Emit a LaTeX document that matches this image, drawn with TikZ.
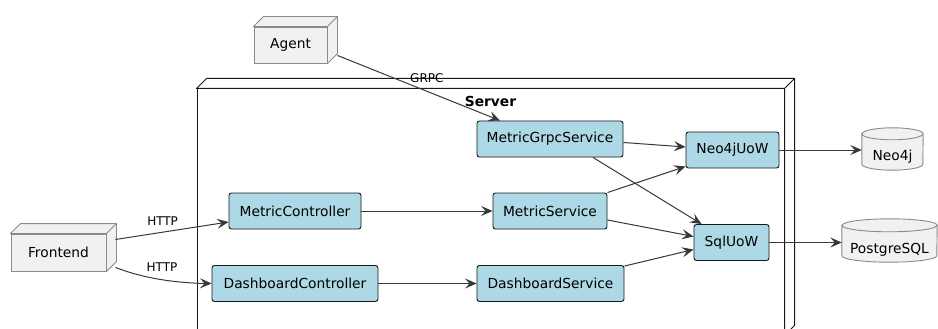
\documentclass[tikz,border=0pt]{standalone}
\usepackage{fontspec}
\setmainfont{DejaVu Sans}
\usetikzlibrary{arrows.meta,calc,backgrounds}

\definecolor{compblue}{HTML}{ADD8E6}
\definecolor{inkdark}{HTML}{181818}
\definecolor{nodegray}{HTML}{F1F1F1}
\definecolor{edgegray}{HTML}{8A8A8A}
\definecolor{wire}{HTML}{383838}

% top and side faces of a 3D "node" box, drawn behind its front face
\newcommand\boxfaces[2]{%
  \draw[#2] (#1.north west) -- ++(10,-10) -- ($(#1.north east)+(10,-10)$)
    -- ($(#1.south east)+(10,-10)$) -- (#1.south east) -- (#1.north east) -- cycle;
  \draw[#2] (#1.north east) -- ++(10,-10);}

% database cylinder around a named node: #2 = x radius, #3 = y radius (pt)
\newcommand\dbbody[3]{%
  \draw[dbline] ($(#1.north west)+(0,#3)$) -- ($(#1.south west)+(0,-#3)$)
    arc[start angle=180, end angle=360, x radius=#2pt, y radius=#3pt]
    -- ($(#1.north east)+(0,#3)$)
    arc[start angle=0, end angle=180, x radius=#2pt, y radius=#3pt] -- cycle;
  \draw[dbline, fill=none] ($(#1.north west)+(0,#3)$)
    arc[start angle=180, end angle=360, x radius=#2pt, y radius=#3pt];}

\begin{document}
\begin{tikzpicture}[x=1pt,y=-1pt,
  txt/.style={font=\fontsize{13.8}{16}\selectfont},
  comp/.style={txt, draw=inkdark, fill=compblue, rounded corners=2.5pt,
    line width=0.9pt, inner sep=0pt, minimum height=36pt},
  cube/.style={txt, draw=edgegray, fill=nodegray, line width=0.9pt,
    inner sep=0pt, minimum height=36pt},
  cubeface/.style={draw=edgegray, fill=nodegray, line width=0.9pt, line join=round},
  db/.style={txt, inner sep=0pt},
  dbline/.style={draw=edgegray, fill=nodegray, line width=0.9pt},
  frame/.style={draw=inkdark, fill=white, line width=1pt, inner sep=0pt},
  frameface/.style={draw=inkdark, fill=white, line width=1pt, line join=round},
  link/.style={draw=wire, line width=1pt,
    -{Stealth[length=11.5pt,width=10pt,inset=4.5pt]}},
  lbl/.style={font=\fontsize{12}{14}\selectfont, inner sep=0pt}
]
\useasboundingbox (0,0) rectangle (938,329);

% server frame
\node[frame, minimum width=587pt, minimum height=246pt] (server) at (490.5,212) {};
\boxfaces{server}{frameface}
\node[font=\bfseries\fontsize{13.8}{16}\selectfont] (srvlabel) at (490.5,101) {Server};

% outside nodes
\node[cube, minimum width=73pt] (agent) at (290.5,45) {Agent};
\boxfaces{agent}{cubeface}
\node[cube, minimum width=95pt, minimum height=37pt] (fe) at (58.5,252.5) {Frontend};
\boxfaces{fe}{cubeface}

% components
\node[comp, minimum width=146pt] (mgs) at (550,139) {MetricGrpcService};
\node[comp, minimum width=93pt]  (neo) at (732.5,150) {Neo4jUoW};
\node[comp, minimum width=75pt]  (sql) at (731.5,242.5) {SqlUoW};
\node[comp, minimum width=114pt] (ms)  at (550,211) {MetricService};
\node[comp, minimum width=147pt] (ds)  at (550.5,283.5) {DashboardService};
\node[comp, minimum width=132pt] (mc)  at (295,211) {MetricController};
\node[comp, minimum width=166pt] (dc)  at (295,283.5) {DashboardController};

% databases
\node[db, minimum width=61pt, minimum height=42pt] (neodb) at (892.5,149)
  {\raisebox{-8pt}[\height][\depth]{Neo4j}};
\node[db, minimum width=95pt, minimum height=43pt] (pgdb) at (889.5,240.5)
  {\raisebox{-9pt}[\height][\depth]{PostgreSQL}};
\begin{pgfonlayer}{background}
  \dbbody{neodb}{30.5}{6}
  \dbbody{pgdb}{47.5}{6.5}
\end{pgfonlayer}

% connectors
\draw[link] ($(agent.south east)+(10,-8)$) -- ($(mgs.north)+(-50,0)$)
  node[lbl, pos=0.55, yshift=13pt] {GRPC};
\draw[link] ($(fe.east)+(9,-13)$) -- ($(mc.west)+(0,11)$)
  node[lbl, pos=0.417, yshift=11.5pt] {HTTP};
\draw[link] ($(fe.south east)+(9,-4)$) .. controls (145,279) and (178,283) .. (dc.west)
  node[lbl, pos=0.5, yshift=12pt] {HTTP};
\draw[link] (mc.east) -- (ms.west);
\draw[link] (dc.east) -- (ds.west);
\draw[link] ($(mgs.east)+(0,3.5)$) -- ($(neo.west)+(0,-3)$);
\draw[link] ($(mgs.south)+(43,0)$) -- ($(sql.north west)+(8,0)$);
\draw[link] (ms.north east) -- ($(neo.south west)+(0,-2)$);
\draw[link] ($(ms.east)+(0,9)$) -- ($(sql.west)+(0,-6)$);
\draw[link] ($(ds.north east)+(0,1)$) -- ($(sql.west)+(0,7)$);
\draw[link] (neo.east) -- (neo.east -| neodb.west);
\draw[link] (sql.east) -- (sql.east -| pgdb.west);
\end{tikzpicture}
\end{document}
